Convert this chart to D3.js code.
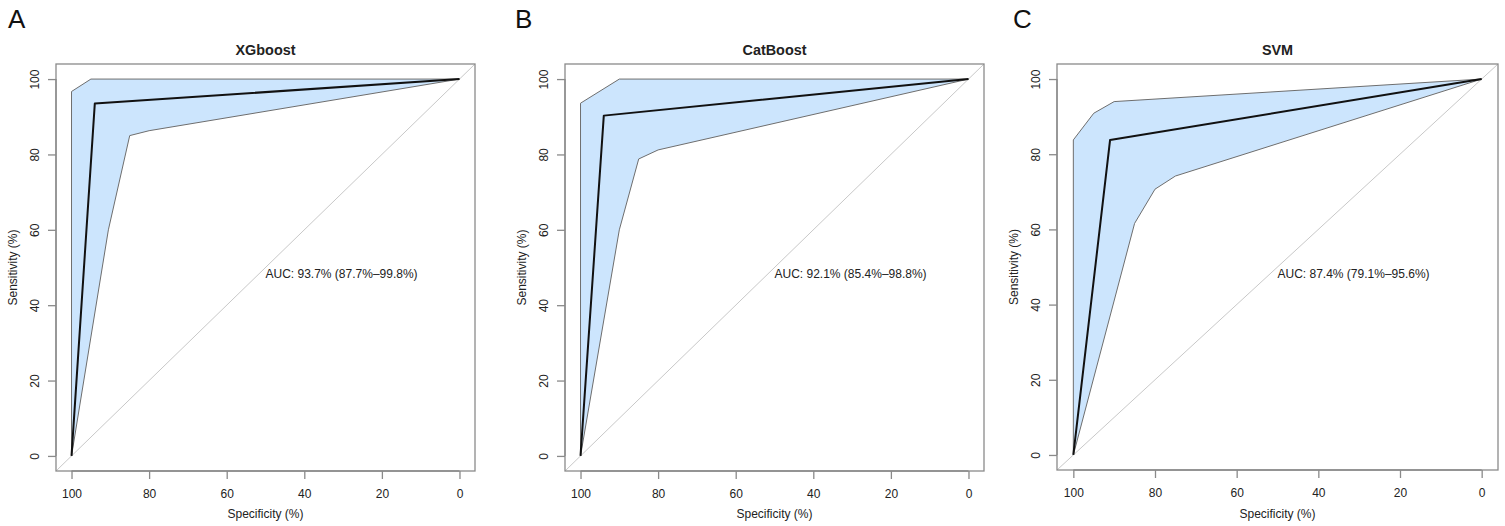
<!DOCTYPE html>
<html>
<head>
<meta charset="utf-8">
<script src="https://cdn.jsdelivr.net/npm/d3@7"></script>
<style>
  html, body { margin: 0; padding: 0; background: #fff; }
  svg { display: block; font-family: "Liberation Sans", Arial, Helvetica, sans-serif; }
</style>
</head>
<body>
<svg id="chart" width="1505" height="526"></svg>
<script>
// ---- data ----
const panelLetters = ["A", "B", "C"];
const modelNames = ["XGboost", "CatBoost", "SVM"];
const aucLabels = [
  "AUC: 93.7% (87.7%\u201399.8%)",
  "AUC: 92.1% (85.4%\u201398.8%)",
  "AUC: 87.4% (79.1%\u201395.6%)"
];
const tickValues = [100, 80, 60, 40, 20, 0];

// ROC curves (specificity %, sensitivity %)
const xgbRocSpec = [100, 94, 0];
const xgbRocSens = [0, 93.5, 100];
const catRocSpec = [100, 94, 0];
const catRocSens = [0, 90.3, 100];
const svmRocSpec = [100, 91, 0];
const svmRocSens = [0, 83.8, 100];

// CI band upper edge
const xgbUpperSpec = [100, 100, 95, 0];
const xgbUpperSens = [0, 96.7, 100, 100];
const catUpperSpec = [100, 100, 90, 0];
const catUpperSens = [0, 93.6, 100, 100];
const svmUpperSpec = [100, 100, 95, 90, 0];
const svmUpperSens = [0, 83.8, 90.9, 94, 100];

// CI band lower edge
const xgbLowerSpec = [0, 80, 85, 90.5, 100];
const xgbLowerSens = [100, 86.3, 85, 60, 0];
const catLowerSpec = [0, 80, 85, 90, 100];
const catLowerSens = [100, 81.2, 78.8, 60, 0];
const svmLowerSpec = [0, 75, 80, 85, 100];
const svmLowerSens = [100, 74.2, 70.7, 61.6, 0];

const rocSpecs = [xgbRocSpec, catRocSpec, svmRocSpec];
const rocSenss = [xgbRocSens, catRocSens, svmRocSens];
const upSpecs = [xgbUpperSpec, catUpperSpec, svmUpperSpec];
const upSenss = [xgbUpperSens, catUpperSens, svmUpperSens];
const loSpecs = [xgbLowerSpec, catLowerSpec, svmLowerSpec];
const loSenss = [xgbLowerSens, catLowerSens, svmLowerSens];

// ---- layout ----
const boxes = [
  { left: 56, right: 475, top: 64, bottom: 471, letterX: 8 },
  { left: 565, right: 984, top: 64, bottom: 471, letterX: 515 },
  { left: 1057, right: 1498, top: 64, bottom: 470, letterX: 1013 }
];

const svg = d3.select("#chart");
const axisCol = "#8a8a8a";
const textCol = "#222";
const zip = (a, b) => a.map((v, i) => [v, b[i]]);

boxes.forEach((b, i) => {
  const x = d3.scaleLinear().domain([104, -4]).range([b.left, b.right]);
  const y = d3.scaleLinear().domain([-4, 104]).range([b.bottom, b.top]);
  const g = svg.append("g");

  const clipId = "clip" + i;
  svg.append("clipPath").attr("id", clipId)
    .append("rect").attr("x", b.left).attr("y", b.top)
    .attr("width", b.right - b.left).attr("height", b.bottom - b.top);

  // diagonal reference line (abline)
  g.append("line")
    .attr("clip-path", `url(#${clipId})`)
    .attr("x1", x(104)).attr("y1", y(-4))
    .attr("x2", x(-4)).attr("y2", y(104))
    .attr("stroke", "#c8c8c8").attr("stroke-width", 1);

  // CI band polygon
  const band = zip(upSpecs[i], upSenss[i]).concat(zip(loSpecs[i], loSenss[i]));
  g.append("path")
    .attr("d", d3.line().x(d => x(d[0])).y(d => y(d[1]))(band) + "Z")
    .attr("fill", "#cce5fd")
    .attr("stroke", "#6e6e6e")
    .attr("stroke-width", 1);

  // ROC curve
  g.append("path")
    .attr("d", d3.line().x(d => x(d[0])).y(d => y(d[1]))(zip(rocSpecs[i], rocSenss[i])))
    .attr("fill", "none")
    .attr("stroke", "#111")
    .attr("stroke-width", 2)
    .attr("stroke-linejoin", "round");

  // box
  g.append("rect")
    .attr("x", b.left).attr("y", b.top)
    .attr("width", b.right - b.left).attr("height", b.bottom - b.top)
    .attr("fill", "none").attr("stroke", axisCol).attr("stroke-width", 1.3);

  // x axis
  const xAxis = g.append("g").attr("transform", `translate(0,${b.bottom})`)
    .call(d3.axisBottom(x).tickValues(tickValues).tickSize(8).tickPadding(10).tickFormat(d3.format("d")));
  xAxis.select(".domain").attr("d", `M${x(100)},0H${x(0)}`).attr("stroke", axisCol).attr("stroke-width", 1.3);
  xAxis.selectAll(".tick line").attr("stroke", axisCol).attr("stroke-width", 1.3);
  xAxis.selectAll(".tick text").attr("fill", textCol).attr("font-size", 12)
    .attr("font-family", "Liberation Sans, Arial, sans-serif");

  // y axis
  const yAxis = g.append("g").attr("transform", `translate(${b.left},0)`)
    .call(d3.axisLeft(y).tickValues(tickValues).tickSize(8).tickFormat(d3.format("d")));
  yAxis.select(".domain").attr("d", `M0,${y(0)}V${y(100)}`).attr("stroke", axisCol).attr("stroke-width", 1.3);
  yAxis.selectAll(".tick line").attr("stroke", axisCol).attr("stroke-width", 1.3);
  yAxis.selectAll(".tick text")
    .attr("fill", textCol).attr("font-size", 12)
    .attr("font-family", "Liberation Sans, Arial, sans-serif")
    .attr("x", null).attr("dy", null)
    .attr("text-anchor", "middle")
    .attr("transform", "translate(-17.5,0) rotate(-90)");

  const midX = (b.left + b.right) / 2;
  const midY = (b.top + b.bottom) / 2;

  // axis titles
  g.append("text").attr("x", midX).attr("y", 518)
    .attr("text-anchor", "middle").attr("font-size", 12).attr("fill", textCol)
    .text("Specificity (%)");
  g.append("text")
    .attr("transform", `translate(${b.left - 39},${midY}) rotate(-90)`)
    .attr("text-anchor", "middle").attr("font-size", 12).attr("fill", textCol)
    .text("Sensitivity (%)");

  // title
  g.append("text").attr("x", midX).attr("y", 55)
    .attr("text-anchor", "middle").attr("font-size", 14.4).attr("font-weight", "bold")
    .attr("fill", textCol).text(modelNames[i]);

  // panel letter
  g.append("text").attr("x", b.letterX).attr("y", 28)
    .attr("font-size", 26).attr("fill", "#111").text(panelLetters[i]);

  // AUC label
  g.append("text").attr("x", x(50)).attr("y", 278)
    .attr("font-size", 12).attr("fill", textCol).text(aucLabels[i]);
});
</script>
</body>
</html>
